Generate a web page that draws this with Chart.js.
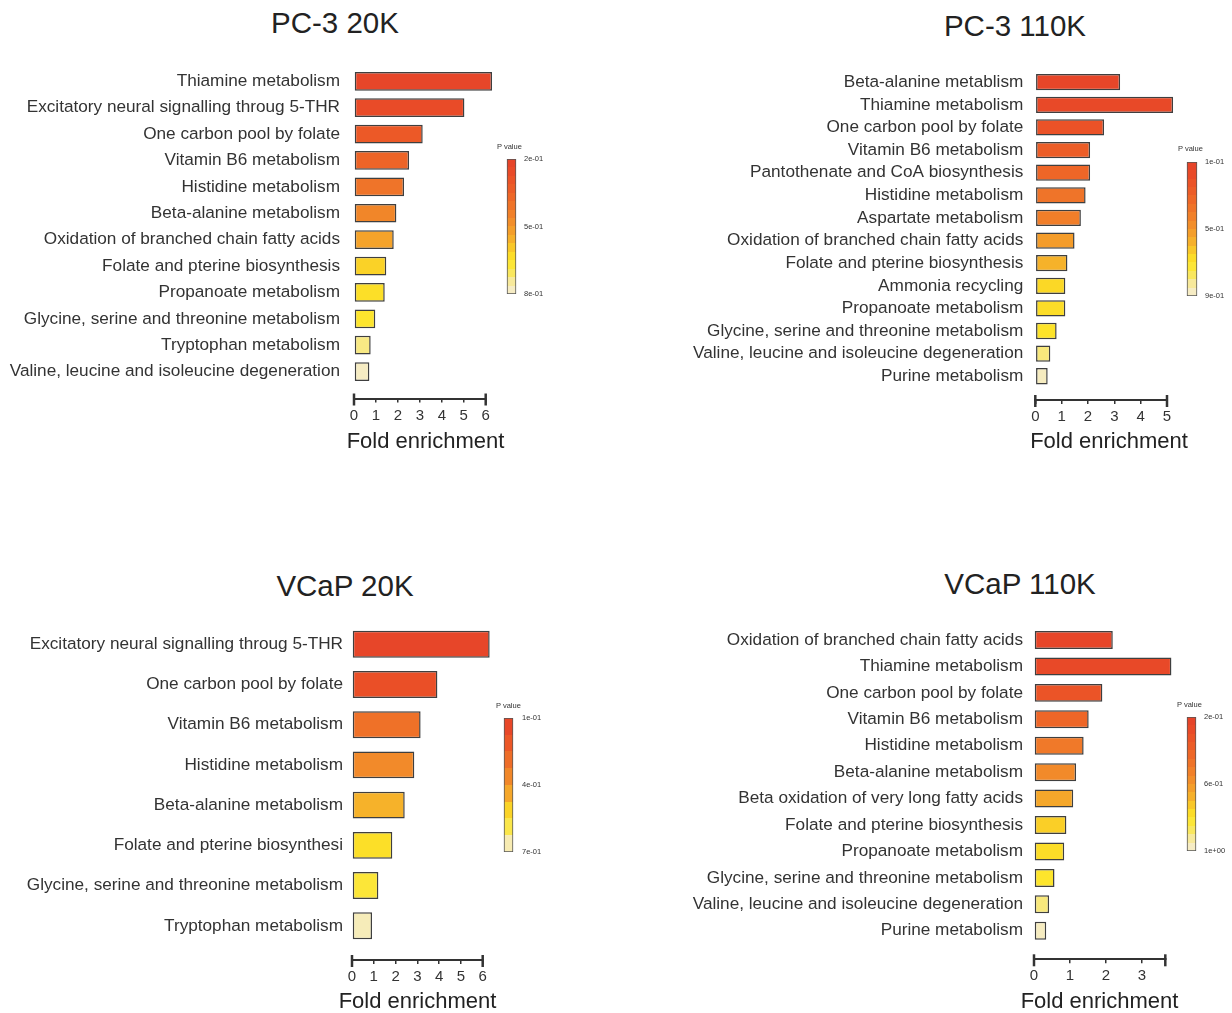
<!DOCTYPE html>
<html>
<head>
<meta charset="utf-8">
<title>Pathway enrichment</title>
<script src="https://cdn.jsdelivr.net/npm/chart.js@4.4.1/dist/chart.umd.min.js"></script>
<style>
  html, body { margin: 0; padding: 0; background: #fff; }
  body { width: 1232px; height: 1013px; position: relative; overflow: hidden;
         font-family: 'Liberation Sans', Arial, sans-serif; }
  .title { position: absolute; width: 400px; text-align: center; font-size: 29.5px;
           line-height: 29.5px; color: #222; white-space: nowrap; }
  .axtitle { position: absolute; width: 300px; text-align: center; font-size: 22px;
             line-height: 22px; color: #222; white-space: nowrap; }
  .plabel { position: absolute; font-size: 7.5px; line-height: 7.5px; color: #333; white-space: nowrap; }
  canvas { position: absolute; }
</style>
</head>
<body>
<div class="title" style="left:135px;top:8px;">PC-3 20K</div>
<div class="title" style="left:815px;top:10.6px;">PC-3 110K</div>
<div class="title" style="left:145px;top:570.6px;">VCaP 20K</div>
<div class="title" style="left:820px;top:568.6px;">VCaP 110K</div>

<canvas id="pc3_20k" width="520" height="410" style="left:0px;top:60px;"></canvas>
<canvas id="pc3_110k" width="540" height="410" style="left:690px;top:60px;"></canvas>
<canvas id="vcap_20k" width="520" height="398" style="left:0px;top:615px;"></canvas>
<canvas id="vcap_110k" width="540" height="398" style="left:690px;top:615px;"></canvas>

<canvas id="pc3_20k_cb" width="60" height="155" style="left:503px;top:149px;"></canvas>
<canvas id="pc3_110k_cb" width="60" height="154" style="left:1183px;top:152px;"></canvas>
<canvas id="vcap_20k_cb" width="60" height="154" style="left:500px;top:708px;"></canvas>
<canvas id="vcap_110k_cb" width="60" height="154" style="left:1183px;top:707px;"></canvas>

<div class="plabel" style="left:497px;top:143.3px;">P value</div>
<div class="plabel" style="left:1178px;top:145.3px;">P value</div>
<div class="plabel" style="left:496px;top:702.3px;">P value</div>
<div class="plabel" style="left:1177px;top:701.3px;">P value</div>

<div class="axtitle" style="left:275.5px;top:430px;">Fold enrichment</div>
<div class="axtitle" style="left:959px;top:429.5px;">Fold enrichment</div>
<div class="axtitle" style="left:267.5px;top:989.5px;">Fold enrichment</div>
<div class="axtitle" style="left:949.5px;top:989.5px;">Fold enrichment</div>

<script>
// ---- PC-3 20K ----
const pc3_20k_pathways = [
  'Thiamine metabolism',
  'Excitatory neural signalling throug 5-THR',
  'One carbon pool by folate',
  'Vitamin B6 metabolism',
  'Histidine metabolism',
  'Beta-alanine metabolism',
  'Oxidation of branched chain fatty acids',
  'Folate and pterine biosynthesis',
  'Propanoate metabolism',
  'Glycine, serine and threonine metabolism',
  'Tryptophan metabolism',
  'Valine, leucine and isoleucine degeneration'
];
const pc3_20k_fold   = [6.29, 5.03, 3.13, 2.51, 2.28, 1.93, 1.81, 1.47, 1.40, 0.97, 0.76, 0.70];
const pc3_20k_pvalue = [0.23, 0.26, 0.32, 0.36, 0.41, 0.46, 0.53, 0.61, 0.64, 0.66, 0.73, 0.78];
const pc3_20k_pTicks = [0.2, 0.5, 0.8];
const pc3_20k_xEnd   = 6;

// ---- PC-3 110K ----
const pc3_110k_pathways = [
  'Beta-alanine metablism',
  'Thiamine metabolism',
  'One carbon pool by folate',
  'Vitamin B6 metabolism',
  'Pantothenate and CoA biosynthesis',
  'Histidine metabolism',
  'Aspartate metabolism',
  'Oxidation of branched chain fatty acids',
  'Folate and pterine biosynthesis',
  'Ammonia recycling',
  'Propanoate metabolism',
  'Glycine, serine and threonine metabolism',
  'Valine, leucine and isoleucine degeneration',
  'Purine metabolism'
];
const pc3_110k_fold   = [3.22, 5.23, 2.61, 2.08, 2.08, 1.91, 1.73, 1.49, 1.22, 1.14, 1.14, 0.81, 0.57, 0.47];
const pc3_110k_pvalue = [0.14, 0.16, 0.22, 0.28, 0.32, 0.38, 0.42, 0.52, 0.58, 0.66, 0.68, 0.70, 0.80, 0.87];
const pc3_110k_pTicks = [0.1, 0.5, 0.9];
const pc3_110k_xEnd   = 5;

// ---- VCaP 20K ----
const vcap_20k_pathways = [
  'Excitatory neural signalling throug 5-THR',
  'One carbon pool by folate',
  'Vitamin B6 metabolism',
  'Histidine metabolism',
  'Beta-alanine metabolism',
  'Folate and pterine biosynthesi',
  'Glycine, serine and threonine metabolism',
  'Tryptophan metabolism'
];
const vcap_20k_fold   = [6.32, 3.92, 3.15, 2.86, 2.42, 1.85, 1.21, 0.92];
const vcap_20k_pvalue = [0.13, 0.18, 0.30, 0.37, 0.46, 0.54, 0.57, 0.67];
const vcap_20k_pTicks = [0.1, 0.4, 0.7];
const vcap_20k_xEnd   = 6;

// ---- VCaP 110K ----
const vcap_110k_pathways = [
  'Oxidation of branched chain fatty acids',
  'Thiamine metabolism',
  'One carbon pool by folate',
  'Vitamin B6 metabolism',
  'Histidine metabolism',
  'Beta-alanine metabolism',
  'Beta oxidation of very long fatty acids',
  'Folate and pterine biosynthesis',
  'Propanoate metabolism',
  'Glycine, serine and threonine metabolism',
  'Valine, leucine and isoleucine degeneration',
  'Purine metabolism'
];
const vcap_110k_fold   = [2.19, 3.82, 1.90, 1.52, 1.38, 1.17, 1.09, 0.90, 0.84, 0.57, 0.42, 0.34];
const vcap_110k_pvalue = [0.24, 0.26, 0.33, 0.42, 0.50, 0.56, 0.65, 0.74, 0.78, 0.81, 0.90, 0.97];
const vcap_110k_pTicks = [0.2, 0.6, 1.0];
const vcap_110k_xEnd   = 3.65;

// ---- shared styling ----
const FONT = "'Liberation Sans', Arial, sans-serif";
const INK = '#333';

// red -> orange -> yellow -> cream, low p at 0
const COLOR_STOPS = [
  [0.00, '#e5412a'],
  [0.12, '#ea4d27'],
  [0.25, '#ed6127'],
  [0.38, '#f07a29'],
  [0.50, '#f3952a'],
  [0.60, '#f6b22a'],
  [0.70, '#fbd826'],
  [0.76, '#fde52a'],
  [0.84, '#f9e75a'],
  [0.92, '#f7eaa8'],
  [1.00, '#f5eed6']
];

function hexRgb(h) {
  return [parseInt(h.slice(1, 3), 16), parseInt(h.slice(3, 5), 16), parseInt(h.slice(5, 7), 16)];
}

function colorAt(t) {
  t = Math.max(0, Math.min(1, t));
  for (let i = 1; i < COLOR_STOPS.length; i++) {
    const [t1, c1] = COLOR_STOPS[i];
    if (t <= t1) {
      const [t0, c0] = COLOR_STOPS[i - 1];
      const f = (t - t0) / (t1 - t0);
      const a = hexRgb(c0), b = hexRgb(c1);
      const m = a.map((v, k) => Math.round(v + (b[k] - v) * f));
      return `rgb(${m[0]},${m[1]},${m[2]})`;
    }
  }
  return COLOR_STOPS[COLOR_STOPS.length - 1][1];
}

function fmtExp(v) {
  const [mant, exp] = Number(v).toExponential(0).split('e');
  const sign = exp[0] === '-' ? '-' : '+';
  return mant + 'e' + sign + exp.replace(/^[+-]/, '').padStart(2, '0');
}

// taller caps at both ends of the fold-enrichment axis
const axisCaps = {
  id: 'axisCaps',
  afterDraw(chart) {
    const xs = chart.scales.x;
    const ctx = chart.ctx;
    const y = xs.top + 1;
    ctx.save();
    ctx.strokeStyle = INK;
    ctx.lineWidth = 2.5;
    [xs.min, xs.max].forEach(v => {
      const px = xs.getPixelForValue(v);
      ctx.beginPath();
      ctx.moveTo(px, y - 6);
      ctx.lineTo(px, y + 6);
      ctx.stroke();
    });
    ctx.restore();
  }
};

function barPanel(cfg) {
  const n = cfg.labels.length;
  const [p0, , p1] = cfg.pTicks;
  new Chart(document.getElementById(cfg.id), {
    type: 'bar',
    data: {
      datasets: [{
        data: cfg.fold.map((v, i) => ({ x: v, y: i })),
        backgroundColor: cfg.pvalue.map(p => colorAt((p - p0) / (p1 - p0))),
        borderColor: '#3f3f3f',
        borderWidth: 1.5,
        borderSkipped: false,
        categoryPercentage: cfg.barFill,
        barPercentage: 1,
        clip: false
      }]
    },
    options: {
      indexAxis: 'y',
      responsive: false,
      animation: false,
      events: [],
      layout: {
        padding: {
          left: 0,
          top: cfg.area.top,
          right: cfg.w - cfg.area.right,
          bottom: cfg.h - cfg.area.bottom - cfg.axisH
        }
      },
      plugins: { legend: { display: false }, tooltip: { enabled: false }, title: { display: false } },
      scales: {
        y: {
          type: 'linear',
          offset: false,
          reverse: true,
          min: -0.5,
          max: n - 1 + cfg.yTail,
          afterFit(s) { s.width = cfg.area.left; s.paddingTop = 0; s.paddingBottom = 0; },
          afterBuildTicks(s) { s.ticks = cfg.labels.map((_, i) => ({ value: i })); },
          grid: { display: false, drawTicks: false, offset: false },
          border: { display: false },
          ticks: {
            autoSkip: false,
            padding: cfg.labelGap,
            color: INK,
            font: { family: FONT, size: 17.2 },
            callback: v => cfg.labels[v]
          }
        },
        x: {
          type: 'linear',
          min: 0,
          max: cfg.xEnd,
          afterFit(s) { s.height = cfg.axisH; s.paddingLeft = 0; s.paddingRight = 0; },
          ticks: {
            stepSize: 1,
            includeBounds: false,
            padding: 4,
            maxRotation: 0,
            color: INK,
            font: { family: FONT, size: 15 }
          },
          grid: { drawOnChartArea: false, drawTicks: true, tickLength: 4, color: INK, lineWidth: 1.5 },
          border: { display: true, color: INK, width: 2 }
        }
      }
    },
    plugins: [axisCaps]
  });
}

function colorBar(cfg) {
  const [p0, , p1] = cfg.pTicks;
  const cv = document.getElementById(cfg.id);
  const W = cv.width;
  new Chart(cv, {
    type: 'bar',
    data: {
      labels: [''],
      datasets: [{
        data: [[p0, p1]],
        backgroundColor(ctx) {
          const chart = ctx.chart;
          if (!chart.chartArea) return null;
          const ys = chart.scales.y;
          const g = chart.ctx.createLinearGradient(0, ys.getPixelForValue(p0), 0, ys.getPixelForValue(p1));
          const N = cfg.bands;
          for (let k = 0; k < N; k++) {
            const c = colorAt((k + 0.5) / N);
            g.addColorStop(k / N, c);
            g.addColorStop((k + 1) / N, c);
          }
          return g;
        },
        borderColor: '#555',
        borderWidth: 1,
        borderSkipped: false,
        barThickness: cfg.barW
      }]
    },
    options: {
      responsive: false,
      animation: false,
      events: [],
      layout: { padding: { left: 0, right: 0, top: 10, bottom: 10 } },
      plugins: { legend: { display: false }, tooltip: { enabled: false } },
      scales: {
        x: { display: false },
        y: {
          position: 'right',
          min: p0,
          max: p1,
          reverse: true,
          afterFit(s) { s.width = W - (cfg.barW + 8); s.paddingTop = 0; s.paddingBottom = 0; },
          afterBuildTicks(s) { s.ticks = cfg.pTicks.map(v => ({ value: v })); },
          grid: { display: false, drawTicks: false },
          border: { display: false },
          ticks: {
            padding: cfg.labelGap,
            color: INK,
            font: { family: FONT, size: 7.5 },
            callback: v => fmtExp(v)
          }
        }
      }
    }
  });
}

barPanel({ id: 'pc3_20k', w: 520, h: 410, labels: pc3_20k_pathways, fold: pc3_20k_fold,
  pvalue: pc3_20k_pvalue, pTicks: pc3_20k_pTicks, xEnd: pc3_20k_xEnd,
  area: { left: 354, right: 485.7, top: 8.1, bottom: 338.5 }, axisH: 55.7,
  yTail: 1.02, barFill: 0.71, labelGap: 14 });
barPanel({ id: 'pc3_110k', w: 540, h: 410, labels: pc3_110k_pathways, fold: pc3_110k_fold,
  pvalue: pc3_110k_pvalue, pTicks: pc3_110k_pTicks, xEnd: pc3_110k_xEnd,
  area: { left: 345.3, right: 477, top: 10.9, bottom: 340 }, axisH: 53.2,
  yTail: 1.05, barFill: 0.72, labelGap: 12 });
barPanel({ id: 'vcap_20k', w: 520, h: 398, labels: vcap_20k_pathways, fold: vcap_20k_fold,
  pvalue: vcap_20k_pvalue, pTicks: vcap_20k_pTicks, xEnd: vcap_20k_xEnd,
  area: { left: 352, right: 482.7, top: 9.1, bottom: 345 }, axisH: 53,
  yTail: 0.85, barFill: 0.67, labelGap: 9 });
barPanel({ id: 'vcap_110k', w: 540, h: 398, labels: vcap_110k_pathways, fold: vcap_110k_fold,
  pvalue: vcap_110k_pvalue, pTicks: vcap_110k_pTicks, xEnd: vcap_110k_xEnd,
  area: { left: 344, right: 475.3, top: 11.8, bottom: 344.3 }, axisH: 53.7,
  yTail: 1.08, barFill: 0.68, labelGap: 11 });

colorBar({ id: 'pc3_20k_cb', pTicks: pc3_20k_pTicks, barW: 9, labelGap: 4, bands: 16 });
colorBar({ id: 'pc3_110k_cb', pTicks: pc3_110k_pTicks, barW: 10, labelGap: 4, bands: 16 });
colorBar({ id: 'vcap_20k_cb', pTicks: vcap_20k_pTicks, barW: 9, labelGap: 5, bands: 8 });
colorBar({ id: 'vcap_110k_cb', pTicks: vcap_110k_pTicks, barW: 9, labelGap: 4, bands: 16 });
</script>
</body>
</html>
